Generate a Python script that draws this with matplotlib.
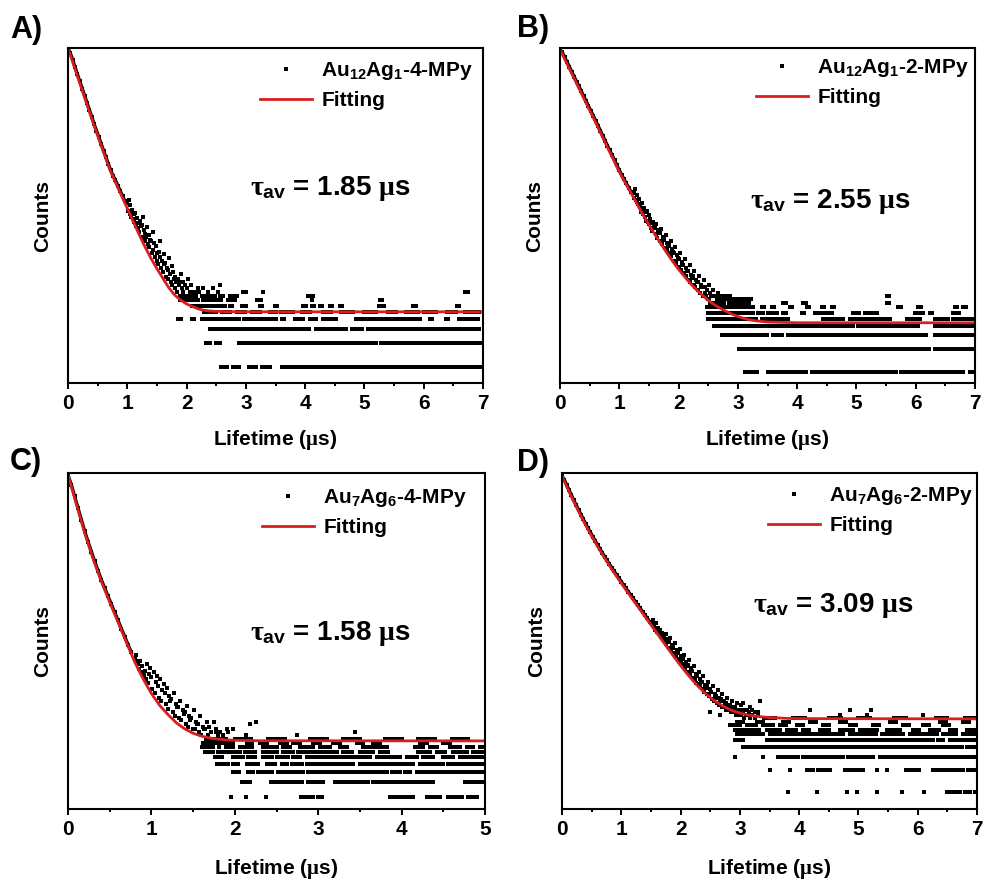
import numpy as np
import matplotlib
matplotlib.use("Agg")
import matplotlib.pyplot as plt
from matplotlib.lines import Line2D
from matplotlib.ticker import MultipleLocator

plt.rcParams['font.family'] = 'Liberation Sans'
plt.rcParams['font.weight'] = 'bold'
plt.rcParams['mathtext.fontset'] = 'custom'
plt.rcParams['mathtext.rm'] = 'Liberation Sans:bold'
plt.rcParams['mathtext.bf'] = 'Liberation Sans:bold'
plt.rcParams['mathtext.it'] = 'Liberation Serif'

# ---------------- data (counts vs lifetime in us) ----------------
PANEL_TAGS = ["A)", "B)", "C)", "D)"]
SAMPLES = ["Au$_{12}$Ag$_{1}$-4-MPy", "Au$_{12}$Ag$_{1}$-2-MPy",
           "Au$_{7}$Ag$_{6}$-4-MPy", "Au$_{7}$Ag$_{6}$-2-MPy"]
TAU_AV = ["1.85", "2.55", "1.58", "3.09"]
X_MAX = [7, 7, 5, 7]
Y_LIM = [(0.627, 11000), (0.71, 18200), (1.43, 16000), (0.58, 21700)]

EARLY_DT = 0.04   # spacing of the early (high count) channels listed below
BAND_DT = 0.013   # spacing of the neighbouring channels in one band entry
RUN_DT = 0.02     # spacing of channels inside runs of equal counts in the tails

# fitted curves
A_FIT_T = [0.0, 0.1, 0.2, 0.3, 0.4, 0.5, 0.6, 0.7, 0.8, 0.9, 1.0, 1.1, 1.2, 1.3, 1.4,
           1.5, 1.6, 1.7, 1.8, 1.9, 2.0, 2.1, 2.2, 2.3, 2.4, 2.5, 2.7, 3.0, 7.0]
A_FIT_Y = [10960, 6550, 3910, 2340, 1400, 856, 525, 324, 219, 149.5, 102.7, 69.6, 47.7,
           33.2, 23.8, 17.6, 13.3, 10.1, 8.16, 7.04, 6.29, 5.83, 5.44, 5.22, 5.12, 5.06,
           5.02, 5.0, 5.0]
B_FIT_T = [0.0, 0.1, 0.2, 0.3, 0.4, 0.5, 0.6, 0.7, 0.8, 0.9, 1.0, 1.1, 1.2, 1.3, 1.4,
           1.5, 1.6, 1.7, 1.8, 1.9, 2.0, 2.1, 2.2, 2.3, 2.4, 2.5, 2.6, 2.7, 2.8, 2.9,
           3.0, 3.1, 3.2, 3.3, 3.5, 4.0, 7.0]
B_FIT_Y = [17380, 12025, 8322, 5758, 3985, 2758, 1909, 1307, 895, 621, 426, 306, 223,
           161, 116, 85.7, 64, 48.6, 36.8, 28.4, 22.2, 17.9, 14.5, 12.0, 10.15, 8.7,
           7.64, 6.85, 6.22, 5.72, 5.33, 5.03, 4.82, 4.67, 4.51, 4.41, 4.4]
C_FIT_T = [0.0, 0.1, 0.2, 0.3, 0.4, 0.5, 0.6, 0.7, 0.8, 0.9, 1.0, 1.1, 1.2, 1.3, 1.4,
           1.5, 1.6, 1.7, 1.8, 1.9, 2.0, 2.3, 5.0]
C_FIT_Y = [15150, 6770, 3029, 1488, 786, 446, 255, 146, 84.5, 53.1, 35.2, 25.3, 19.6,
           15.6, 13.2, 11.7, 10.8, 10.25, 9.93, 9.74, 9.62, 9.5, 9.46]
D_FIT_T = [0.0, 0.1, 0.2, 0.3, 0.4, 0.5, 0.6, 0.7, 0.8, 0.9, 1.0, 1.1, 1.2, 1.3, 1.4,
           1.5, 1.6, 1.7, 1.8, 1.9, 2.0, 2.1, 2.2, 2.3, 2.4, 2.5, 2.6, 2.7, 2.8, 2.9,
           3.0, 3.1, 3.2, 3.3, 3.5, 3.8, 4.0, 7.0]
D_FIT_Y = [19730, 13040, 8780, 6022, 4208, 2995, 2168, 1595, 1190, 899, 686, 526, 405,
           313, 241, 186, 144, 111, 85.7, 66.5, 52.0, 41.1, 33.0, 26.9, 22.4, 19.0,
           16.6, 14.8, 13.4, 12.45, 11.73, 11.2, 10.82, 10.54, 10.19, 9.93, 9.86, 9.77]

# early channels (t = 0, 0.04, 0.08, ...)
A_EARLY = [10960, 9450, 7700, 6260, 5100, 4150, 3370, 2750, 2230, 1820, 1480, 1200, 990,
           815, 670, 550, 455, 375, 310, 265, 232, 199, 171, 147, 126]
B_EARLY = [17380, 15900, 13700, 11840, 10200, 8820, 7610, 6560, 5670, 4890, 4220, 3650,
           3140, 2710, 2340, 2020, 1735, 1490, 1280, 1100, 945, 815, 705, 605, 520, 447,
           391, 342, 300, 264, 232]
C_EARLY = [15140, 11500, 8350, 6050, 4390, 3180, 2390, 1800, 1375, 1065, 825, 657, 524,
           418, 334, 268, 213, 171, 137, 110]
D_EARLY = [19720, 17560, 14870, 12660, 10800, 9210, 7920, 6820, 5890, 5090, 4420, 3860,
           3370, 2950, 2590, 2280, 2010, 1780, 1580, 1400, 1250, 1117, 999, 893, 803,
           720, 647, 582, 524, 472, 425, 384, 345, 311, 281, 253, 228, 205]

# noisy band: (t, counts of the neighbouring channels from t on)
A_BAND = [(1.00, 118, 96, 131), (1.04, 87, 112, 79), (1.08, 98, 74, 88), (1.12, 69, 90, 61),
          (1.16, 77, 58, 66), (1.20, 52, 70, 61), (1.24, 63, 45, 79), (1.28, 55, 39, 48),
          (1.32, 44, 60, 36), (1.36, 33, 47, 41), (1.40, 39, 28, 52), (1.44, 30, 37, 25),
          (1.48, 34, 22, 28), (1.52, 20, 29, 39), (1.56, 25, 18, 22), (1.60, 16, 27, 20),
          (1.64, 21, 14, 18), (1.68, 13, 17, 24), (1.72, 15, 12, 19), (1.76, 11, 16, 13),
          (1.80, 14, 10, 12), (1.84, 9, 13, 11), (1.88, 12, 8, 15), (1.92, 10, 9, 12),
          (1.96, 8, 11, 7), (2.00, 10, 7, 13), (2.04, 8, 9, 7), (2.08, 11, 6, 8),
          (2.12, 7, 9, 6), (2.16, 8, 6, 10), (2.20, 7, 9), (2.24, 6, 8), (2.28, 10, 7),
          (2.32, 6, 8), (2.36, 9, 5, 7), (2.40, 6, 8), (2.44, 7, 10), (2.48, 8, 6),
          (2.52, 6, 9), (2.56, 11, 7), (2.60, 6, 8)]
B_BAND = [(1.24, 228, 196, 250), (1.28, 182, 211, 170), (1.32, 160, 189, 148),
          (1.36, 141, 128, 166), (1.40, 118, 142, 125), (1.44, 110, 97, 131),
          (1.48, 94, 116, 88), (1.52, 101, 79, 90), (1.56, 71, 92, 84), (1.60, 77, 65, 88),
          (1.64, 58, 73, 66), (1.68, 66, 52, 76), (1.72, 48, 60, 55), (1.76, 54, 43, 63),
          (1.80, 40, 50, 45), (1.84, 46, 36, 53), (1.88, 33, 41, 38), (1.92, 37, 29, 44),
          (1.96, 27, 34, 31), (2.00, 30, 24, 37), (2.04, 22, 28, 26), (2.08, 25, 20, 30),
          (2.12, 18, 23, 21), (2.16, 21, 16, 25), (2.20, 15, 19, 17), (2.24, 18, 14, 21),
          (2.28, 13, 16, 15), (2.32, 15, 12, 18), (2.36, 11, 14, 13), (2.40, 13, 10, 16),
          (2.44, 11, 13, 10), (2.48, 12, 9, 14), (2.52, 9, 11, 10), (2.56, 10, 8, 12),
          (2.60, 8, 10, 7), (2.64, 9, 7, 11), (2.68, 7, 9, 8), (2.72, 8, 6, 10),
          (2.76, 6, 8, 7), (2.80, 7, 9, 6), (2.84, 6, 8), (2.88, 7, 5, 9), (2.92, 6, 7),
          (2.96, 8, 6), (3.00, 5, 7), (3.05, 6, 9), (3.10, 7, 6), (3.15, 5, 8)]
C_BAND = [(0.80, 92, 104, 86), (0.84, 79, 70, 88), (0.88, 64, 76, 59), (0.92, 66, 52, 81),
          (0.96, 47, 60, 71), (1.00, 55, 40, 64), (1.04, 36, 48, 57), (1.08, 44, 31, 52),
          (1.12, 29, 39, 46), (1.16, 36, 26, 41), (1.20, 23, 33, 29), (1.24, 30, 21, 36),
          (1.28, 19, 26, 24), (1.32, 24, 18, 29), (1.36, 17, 22, 20), (1.40, 21, 15, 25),
          (1.44, 14, 19, 17), (1.48, 18, 13, 22), (1.52, 13, 16, 15), (1.56, 15, 12, 19),
          (1.60, 11, 14, 13), (1.64, 13, 10, 16), (1.68, 11, 14), (1.72, 12, 10, 16),
          (1.76, 9, 13), (1.80, 11, 8, 12), (1.84, 9, 11), (1.88, 10, 8, 13), (1.92, 12, 9)]
D_BAND = [(1.52, 192, 214), (1.56, 176, 158, 196), (1.60, 150, 171), (1.64, 139, 160, 128),
          (1.68, 124, 146, 118), (1.72, 132, 110, 141), (1.76, 102, 121, 112),
          (1.80, 109, 91, 123), (1.84, 84, 99, 92), (1.88, 91, 77, 104), (1.92, 70, 84, 76),
          (1.96, 77, 63, 88), (2.00, 58, 70, 54), (2.04, 64, 51, 73), (2.08, 47, 58, 52),
          (2.12, 53, 42, 61), (2.16, 39, 48, 44), (2.20, 44, 35, 51), (2.24, 33, 40, 30),
          (2.28, 37, 29, 43), (2.32, 27, 34, 31), (2.36, 31, 25, 37), (2.40, 23, 28, 26),
          (2.44, 27, 21, 31), (2.48, 20, 25, 23), (2.52, 23, 18, 27), (2.56, 17, 21, 19),
          (2.60, 20, 16, 24), (2.64, 15, 19, 17), (2.68, 18, 14, 21), (2.72, 14, 17, 15),
          (2.76, 16, 13, 19), (2.80, 13, 15, 14), (2.84, 15, 12, 17), (2.88, 12, 14, 13),
          (2.92, 14, 11, 16), (2.96, 12, 13, 11), (3.00, 13, 11, 15), (3.05, 12, 10, 13),
          (3.10, 11, 13), (3.15, 12, 10), (3.20, 11, 13), (3.25, 10, 12), (3.30, 12, 11)]

# isolated channels above the background
A_OUT = [(2.70, 7), (2.85, 8), (3.29, 9), (4.05, 8), (4.12, 7), (5.30, 7), (6.75, 9)]
B_OUT = [(3.80, 8), (4.10, 8), (5.54, 8), (5.74, 7), (6.84, 7)]
C_OUT = [(1.78, 12), (1.98, 13), (2.14, 11), (2.18, 15), (2.26, 16), (2.74, 11),
         (3.44, 12), (3.86, 10), (4.36, 10)]
D_OUT = [(2.50, 12), (2.66, 11), (3.05, 16), (3.17, 14), (3.34, 17), (4.18, 13),
         (4.69, 11), (4.86, 13), (5.14, 11), (5.22, 13), (6.09, 11)]

# tails: counts level -> time spans (us) where the channels sit on that level
A_ROWS = {
    1: [(2.575, 2.676), (2.789, 2.901), (3.058, 3.182), (3.272, 3.328), (3.362, 3.418),
        (3.604, 4.025), (4.054, 4.222), (4.261, 4.599), (4.632, 5.094), (5.161, 5.768),
        (5.824, 6.162), (6.173, 6.64), (6.668, 6.97)],
    2: [(2.327, 2.395), (2.496, 2.575), (2.879, 3.857), (3.913, 4.419), (4.453, 5.206),
        (5.285, 5.386), (5.431, 5.543), (5.6, 6.611), (6.656, 6.97)],
    3: [(2.395, 2.676), (2.732, 3.52), (3.547, 4.082), (4.183, 4.7), (4.784, 4.981),
        (5.065, 6.049), (6.105, 6.668), (6.713, 6.95)],
    4: [(1.861, 1.917), (2.086, 2.142), (2.254, 2.62), (2.665, 2.901), (2.968, 3.52),
        (3.604, 3.66), (3.829, 3.969), (4.082, 4.194), (4.306, 4.419), (4.464, 4.531),
        (4.857, 5.431), (5.476, 5.937), (6.105, 6.162), (6.375, 6.432), (6.6, 6.724),
        (6.78, 6.92)],
    5: [(2.3, 2.5), (2.6, 2.75), (2.85, 3.0), (3.1, 3.25), (3.4, 3.5), (3.6, 3.8),
        (3.95, 4.1), (4.3, 4.45), (4.6, 4.8), (5.0, 5.2), (5.4, 5.55), (5.7, 5.9),
        (6.0, 6.2), (6.4, 6.55), (6.7, 6.95)],
    6: [(2.226, 2.311), (2.367, 2.507), (2.564, 2.648), (2.732, 2.789), (2.929, 3.013),
        (3.238, 3.294), (3.491, 3.547), (3.969, 4.025), (4.11, 4.166), (4.25, 4.306),
        (4.419, 4.475), (4.587, 4.644), (5.251, 5.346), (5.824, 5.881), (6.555, 6.611)],
    7: [(1.889, 2.114), (2.283, 2.395), (2.507, 2.592), (2.732, 2.817), (3.182, 3.266),
        (5.262, 5.318)],
    8: [(1.917, 2.086), (2.339, 2.451), (2.564, 2.62), (2.732, 2.845), (4.054, 4.138)],
    9: [(2.058, 2.17), (2.957, 3.013), (6.696, 6.752)],
}
B_ROWS = {
    1: [(3.12, 3.32), (3.514, 3.71), (3.767, 3.99), (4.05, 4.16), (4.245, 5.68),
        (5.76, 6.8), (6.915, 6.97)],
    2: [(3.025, 3.74), (3.78, 4.44), (4.487, 5.68), (5.72, 6.045), (6.07, 6.24),
        (6.325, 6.98)],
    3: [(2.739, 2.823), (2.868, 3.26), (3.317, 3.514), (3.587, 3.655), (3.71, 3.767),
        (3.852, 6.18), (6.325, 6.98)],
    4: [(2.598, 2.7), (2.727, 3.26), (3.317, 4.949), (5.033, 6.045), (6.325, 6.98)],
    5: [(2.502, 3.317), (3.4, 3.54), (3.6, 3.71), (3.767, 3.85), (4.44, 4.78),
        (4.89, 5.23), (5.285, 5.57), (5.85, 6.07), (6.325, 6.55), (6.635, 6.97)],
    6: [(2.502, 3.092), (3.177, 3.26), (3.345, 3.43), (3.514, 3.57), (3.626, 3.682),
        (3.767, 3.823), (4.076, 4.132), (4.301, 4.497), (4.554, 4.61), (4.947, 5.06),
        (5.144, 5.2), (5.228, 5.285), (5.313, 5.369), (5.987, 6.128), (6.24, 6.296),
        (6.634, 6.746)],
    7: [(2.474, 2.755), (2.811, 2.923), (3.008, 3.26), (3.401, 3.457), (3.57, 3.626),
        (3.879, 3.935), (4.16, 4.217), (4.413, 4.47), (4.582, 4.638), (5.706, 5.762),
        (6.044, 6.1), (6.662, 6.718), (6.802, 6.859)],
    8: [(2.53, 2.755), (2.867, 3.204), (3.767, 3.823), (4.104, 4.16), (5.51, 5.566)],
    9: [(2.755, 3.092), (3.12, 3.232)],
    10: [(2.642, 2.867), (5.51, 5.566)],
}
C_ROWS = {
    2: [(1.95, 1.96), (2.14, 2.15), (2.38, 2.39), (2.79, 2.84), (2.88, 2.94), (3.0, 3.05),
        (3.86, 4.14), (4.3, 4.46), (4.56, 4.72), (4.8, 4.9)],
    3: [(2.082, 2.2), (2.44, 2.8), (2.88, 3.06), (3.2, 3.6), (3.66, 3.94), (3.96, 4.38),
        (4.76, 4.98)],
    4: [(1.974, 2.054), (2.162, 2.222), (2.282, 2.46), (2.52, 2.66), (2.7, 2.82),
        (2.88, 3.18), (3.22, 3.58), (3.62, 3.82), (3.88, 3.98), (4.04, 4.1), (4.18, 4.5),
        (4.54, 4.98)],
    5: [(1.783, 1.924), (1.983, 2.062), (2.142, 2.3), (2.382, 2.5), (2.56, 2.62),
        (2.68, 2.8), (2.86, 3.02), (3.06, 3.18), (3.22, 3.42), (3.5, 3.78), (3.82, 3.98),
        (4.02, 4.14), (4.22, 4.34), (4.38, 4.5), (4.56, 4.98)],
    6: [(1.763, 1.843), (1.983, 2.103), (2.163, 2.262), (2.342, 2.442), (2.502, 2.642),
        (2.702, 2.782), (2.862, 3.142), (3.182, 3.342), (3.381, 3.621), (3.701, 3.821),
        (3.861, 3.981), (4.061, 4.181), (4.261, 4.381), (4.5, 4.62), (4.7, 4.86),
        (4.9, 4.98)],
    7: [(1.643, 1.743), (1.803, 1.943), (1.983, 2.063), (2.123, 2.262), (2.342, 2.502),
        (2.582, 2.702), (2.762, 2.982), (3.022, 3.222), (3.302, 3.421), (3.501, 3.661),
        (3.741, 3.841), (4.201, 4.341), (4.421, 4.54), (4.62, 4.78), (4.86, 4.98)],
    8: [(1.603, 1.743), (1.903, 1.983), (2.063, 2.222), (2.342, 2.502), (2.582, 2.662),
        (2.782, 2.942), (3.022, 3.142), (3.262, 3.342), (3.541, 3.661), (3.701, 3.821),
        (4.161, 4.261), (4.341, 4.421), (4.58, 4.7), (4.78, 4.86), (4.94, 4.98)],
    9: [(1.623, 1.783), (1.823, 1.983), (2.143, 2.222), (2.302, 2.382), (2.542, 2.622),
        (2.702, 2.782), (2.942, 3.022), (3.182, 3.262), (3.461, 3.541), (3.661, 3.741),
        (4.221, 4.301), (4.5, 4.58)],
    10: [(1.7, 1.9), (2.0, 2.2), (2.4, 2.6), (2.9, 3.1), (3.3, 3.5), (3.8, 4.0), (4.2, 4.4),
         (4.6, 4.8)],
}
D_ROWS = {
    1: [(3.82, 3.83), (4.30, 4.31), (4.80, 4.81), (4.97, 4.98), (5.31, 5.32), (5.73, 5.74),
        (6.10, 6.11), (6.49, 6.57), (6.63, 6.71), (6.80, 6.88), (6.96, 6.97)],
    2: [(3.508, 3.51), (3.846, 3.85), (4.127, 4.24), (4.32, 4.52), (4.77, 4.857),
        (4.91, 5.08), (5.31, 5.32), (5.476, 5.48), (5.81, 6.04), (6.26, 6.77), (6.856, 6.97)],
    3: [(2.918, 2.92), (3.396, 3.4), (3.649, 3.99), (4.07, 4.41), (4.44, 4.745),
        (4.83, 5.026), (5.08, 5.25), (5.36, 5.81), (5.87, 6.26), (6.32, 6.49), (6.545, 6.97)],
    4: [(3.06, 3.17), (3.226, 3.34), (3.396, 3.677), (3.733, 3.958), (4.015, 4.41),
        (4.464, 4.97), (5.026, 5.81), (5.87, 6.32), (6.374, 6.77), (6.83, 6.97)],
    5: [(2.92, 3.06), (3.45, 3.677), (3.733, 4.183), (4.24, 4.745), (4.8, 5.195),
        (5.25, 5.757), (5.81, 6.26), (6.34, 6.43), (6.545, 6.97)],
    6: [(2.946, 3.17), (3.226, 3.396), (3.508, 3.846), (3.9, 4.41), (4.464, 4.745),
        (4.857, 5.31), (5.395, 5.757), (5.87, 6.21), (6.26, 6.32), (6.43, 6.66), (6.77, 6.97)],
    7: [(2.918, 3.115), (3.17, 3.34), (3.452, 3.677), (3.79, 3.958), (4.07, 4.183),
        (4.35, 4.52), (4.689, 4.913), (5.026, 5.307), (5.476, 5.7), (5.925, 6.038),
        (6.206, 6.375), (6.544, 6.656), (6.825, 6.965)],
    8: [(2.834, 3.002), (3.115, 3.283), (3.396, 3.565), (3.677, 3.789), (3.958, 4.07),
        (4.408, 4.52), (4.857, 4.97), (5.251, 5.364), (5.757, 5.87), (6.094, 6.206),
        (6.431, 6.544)],
    9: [(2.946, 3.058), (3.283, 3.396), (3.733, 3.846), (4.183, 4.295), (4.689, 4.801),
        (5.532, 5.645), (6.375, 6.488), (6.77, 6.88)],
    10: [(3.4, 3.6), (3.9, 4.1), (4.5, 4.7), (5.0, 5.2), (5.6, 5.8), (6.3, 6.5), (6.8, 6.97)],
}

panels = [
    dict(fit_t=A_FIT_T, fit_y=A_FIT_Y, early=A_EARLY, band=A_BAND, out=A_OUT, rows=A_ROWS),
    dict(fit_t=B_FIT_T, fit_y=B_FIT_Y, early=B_EARLY, band=B_BAND, out=B_OUT, rows=B_ROWS),
    dict(fit_t=C_FIT_T, fit_y=C_FIT_Y, early=C_EARLY, band=C_BAND, out=C_OUT, rows=C_ROWS),
    dict(fit_t=D_FIT_T, fit_y=D_FIT_Y, early=D_EARLY, band=D_BAND, out=D_OUT, rows=D_ROWS),
]


def scattered_points(p):
    t, y = [], []
    for row in p["band"]:
        for k, c in enumerate(row[1:]):
            t.append(row[0] + k * BAND_DT)
            y.append(c)
    for tt, c in p["out"]:
        t.append(tt)
        y.append(c)
    for level, runs in p["rows"].items():
        for t0, t1 in runs:
            ch = np.arange(t0, t1 + 1e-6, RUN_DT)
            t.extend(ch)
            y.extend([level] * len(ch))
    return np.array(t), np.array(y)


# ---------------- layout (pixels of the 984 x 881 canvas) ----------------
W, H = 984, 881
AX_BOX = [(68, 48, 483, 383), (560, 48, 975, 383), (68, 473, 485, 809), (562, 473, 977, 809)]
TAG_POS = [(10, 30), (517, 29), (10, 462), (517, 463)]
TAU_POS = [(330, 195), (830, 208), (330, 640), (833, 612)]
LEG_ANCHOR = [(0.976, 0.964), (0.986, 0.973), (0.957, 0.958), (0.99, 0.964)]
XLAB_Y = [-0.135, -0.135, -0.142, -0.142]
RED = "#d81e1e"
MS = 2.9

fig = plt.figure(figsize=(W / 100, H / 100), dpi=100)

for i, p in enumerate(panels):
    x0, y0, x1, y1 = AX_BOX[i]
    ax = fig.add_axes([x0 / W, 1 - y1 / H, (x1 - x0) / W, (y1 - y0) / H])

    # dense early channels merge into a continuous dark trace
    et = EARLY_DT * np.arange(len(p["early"]))
    ax.plot(et, p["early"], color="black", lw=2.4, marker="s", ms=MS, mew=0)
    t, y = scattered_points(p)
    ax.plot(t, y, ls="none", marker="s", ms=MS, mew=0, color="black")
    ax.plot(p["fit_t"], p["fit_y"], color=RED, lw=2.0)

    ax.set_yscale("log")
    ax.set_ylim(*Y_LIM[i])
    ax.set_xlim(0, X_MAX[i])
    ax.set_xticks(range(X_MAX[i] + 1))
    ax.xaxis.set_minor_locator(MultipleLocator(0.5))
    ax.tick_params(axis="x", which="major", direction="out", length=4, width=1.4,
                   labelsize=15, pad=4)
    ax.tick_params(axis="x", which="minor", direction="out", length=2, width=1.4)
    ax.tick_params(axis="y", which="both", left=False, labelleft=False)
    for s in ax.spines.values():
        s.set_linewidth(1.5)

    ax.set_xlabel("Lifetime ($\\mu$s)", fontsize=15, fontweight="bold")
    ax.xaxis.set_label_coords(0.5, XLAB_Y[i])
    ax.set_ylabel("Counts", fontsize=15, fontweight="bold")
    ax.yaxis.set_label_coords(-16 / (x1 - x0), 0.5)

    handles = [Line2D([], [], ls="none", marker="s", ms=3.5, mew=0, color="black"),
               Line2D([], [], color=RED, lw=2.0)]
    ax.legend(handles, [SAMPLES[i], "Fitting"], loc="upper right",
              bbox_to_anchor=LEG_ANCHOR[i], frameon=False, fontsize=15,
              handlelength=2.5, handletextpad=0.45, labelspacing=0.45,
              borderpad=0, borderaxespad=0)

    tx, ty = TAU_POS[i]
    fig.text(tx / W, 1 - ty / H, "$\\tau_{\\mathbf{av}}$ = " + TAU_AV[i] + " $\\mu$s",
             ha="center", va="baseline", fontsize=20, fontweight="bold")
    lx, ly = TAG_POS[i]
    fig.text(lx / W, 1 - ly / H, PANEL_TAGS[i], ha="left", va="center",
             fontsize=22, fontweight="bold")

fig.savefig("out.png", dpi=100)
